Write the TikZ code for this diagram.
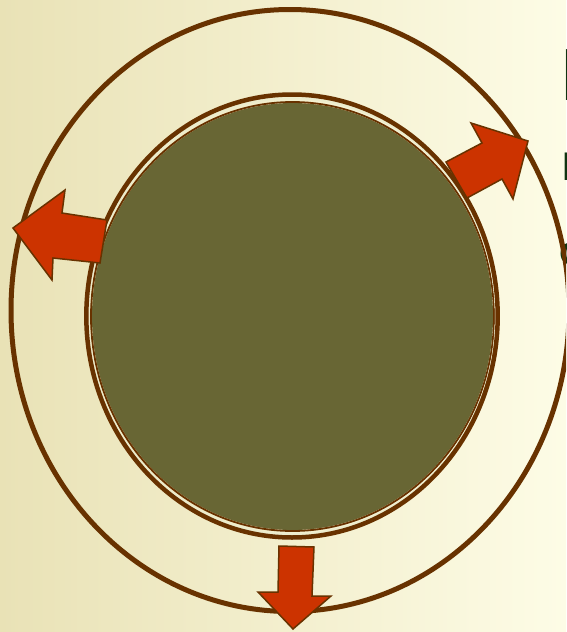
\documentclass[tikz,border=0pt]{standalone}
\usepackage{fontspec}
\setmainfont{Liberation Sans}
\definecolor{bgL}{RGB}{233,226,182}
\definecolor{bgR}{RGB}{253,252,230}
\definecolor{ringbrown}{RGB}{104,50,0}
\definecolor{olivefill}{RGB}{104,102,52}
\definecolor{gapline}{RGB}{236,236,205}
\definecolor{arrowred}{RGB}{204,51,0}
\definecolor{textgreen}{RGB}{16,52,16}
\tikzset{
  blockarrow/.style={fill=arrowred, draw=ringbrown, line width=1.5pt, line join=miter},
  fragtext/.style={text=textgreen, font=\bfseries, inner sep=0pt, anchor=base west}
}
\begin{document}
\begin{tikzpicture}[x=1pt,y=-1pt]
\useasboundingbox (0,0) rectangle (566,632);
\clip (0,0) rectangle (566,632);
\shade[left color=bgL, right color=bgR] (0,0) rectangle (566,632);
% cropped text fragments on the right edge
\node[fragtext, font=\bfseries\fontsize{74}{80}\selectfont] (t1) at (561.5,100) {I};
\node[fragtext, font=\bfseries\fontsize{40}{44}\selectfont] (t2) at (562.5,180) {I};
\node[fragtext, font=\bfseries\fontsize{40}{44}\selectfont] (t3) at (559.5,264) {o};
% outer ring
\draw[ringbrown, line width=5pt] (290,310.5) ellipse [x radius=279, y radius=301];
% inner filled body with double ring
\fill[olivefill] (292.5,316.5) ellipse [x radius=200.5, y radius=213.5];
\draw[ringbrown, line width=1.8pt] (292.5,316.5) ellipse [x radius=201.5, y radius=214.5];
\draw[gapline, line width=2pt] (292.3,316.3) ellipse [x radius=203.6, y radius=218];
\draw[ringbrown, line width=4.5pt] (292,316) ellipse [x radius=205.7, y radius=221.5];
% arrows
\filldraw[blockarrow] (107,220) -- (62,213) -- (65,190) -- (13,228) -- (52,280) -- (53,258) -- (100,263) -- cycle;
\filldraw[blockarrow] (446,162) -- (482,143) -- (471,123) -- (528,141) -- (513,199) -- (502,179) -- (467,198) -- cycle;
\filldraw[blockarrow] (279,546) -- (314,547) -- (312,596) -- (331,596) -- (293,629) -- (258,592) -- (278,592) -- cycle;
\end{tikzpicture}
\end{document}
